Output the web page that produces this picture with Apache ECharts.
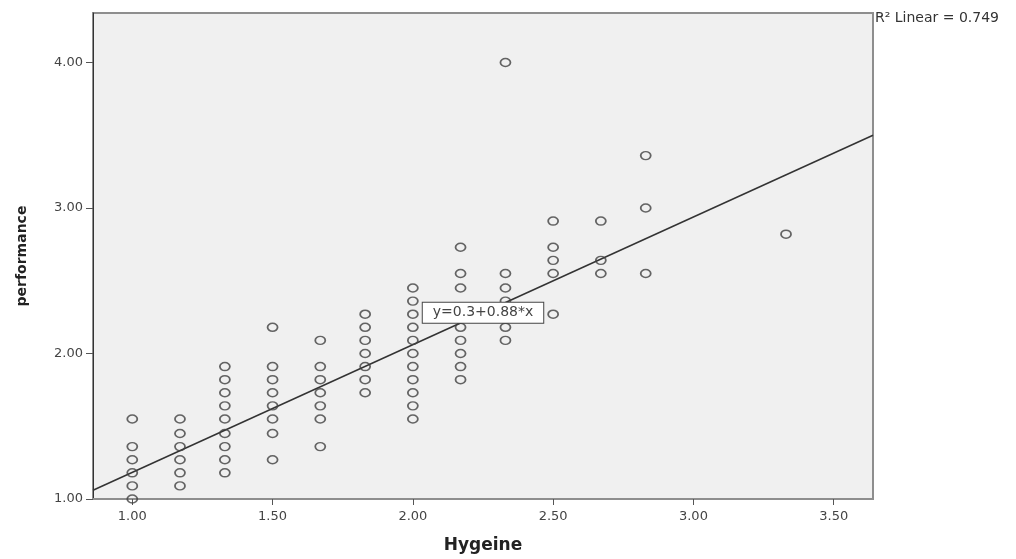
<!DOCTYPE html>
<html lang="en">
<head>
    <meta charset="UTF-8">
    <title>performance vs Hygeine</title>
    <style>
        html, body { margin: 0; padding: 0; background: #fff; }
    </style>
</head>
<body>
    <div id="main" style="width: 1016px;height:559px;"></div>
    <script src="https://cdn.jsdelivr.net/npm/echarts@6/dist/echarts.min.js"></script>
    <script>

// Hygeine levels (x) and the performance values seen at each level
var hygeineLevels = [1.00, 1.17, 1.33, 1.50, 1.67, 1.83, 2.00, 2.17, 2.33, 2.50, 2.67, 2.83, 3.33];
var performanceByLevel = [
    [1.00, 1.09, 1.18, 1.27, 1.36, 1.55],
    [1.09, 1.18, 1.27, 1.36, 1.45, 1.55],
    [1.18, 1.27, 1.36, 1.45, 1.55, 1.64, 1.73, 1.82, 1.91],
    [1.27, 1.45, 1.55, 1.64, 1.73, 1.82, 1.91, 2.18],
    [1.36, 1.55, 1.64, 1.73, 1.82, 1.91, 2.09],
    [1.73, 1.82, 1.91, 2.00, 2.09, 2.18, 2.27],
    [1.55, 1.64, 1.73, 1.82, 1.91, 2.00, 2.09, 2.18, 2.27, 2.36, 2.45],
    [1.82, 1.91, 2.00, 2.09, 2.18, 2.27, 2.45, 2.55, 2.73],
    [2.09, 2.18, 2.27, 2.36, 2.45, 2.55, 4.00],
    [2.27, 2.55, 2.64, 2.73, 2.91],
    [2.55, 2.64, 2.91],
    [2.55, 3.00, 3.36],
    [2.82]
];

// fit line ends, read at the frame edges
var fitX = [0.86, 3.64];
var fitY = [1.06, 3.50];
var fitText = 'y=0.3+0.88*x';
var r2Text = 'R\u00B2 Linear = 0.749';

var xTicks = [1.0, 1.5, 2.0, 2.5, 3.0, 3.5];
var yTicks = [1, 2, 3, 4];

var points = [];
hygeineLevels.forEach(function (h, i) {
    performanceByLevel[i].forEach(function (p) {
        points.push([h, p]);
    });
});
var fitLine = [[fitX[0], fitY[0]], [fitX[1], fitY[1]]];

var labelFont = 'DejaVu Sans, Liberation Sans, sans-serif';

var option = {
    animation: false,
    grid: {
        left: 93,
        right: 143,
        top: 13,
        bottom: 54,
        show: true,
        backgroundColor: '#f0f0f0',
        borderColor: '#8e8e8e',
        borderWidth: 2
    },
    xAxis: {
        type: 'value',
        min: 0.86,
        max: 3.64,
        name: 'Hygeine',
        nameLocation: 'middle',
        nameGap: 38,
        nameTextStyle: {
            fontFamily: labelFont,
            fontWeight: 'bold',
            fontSize: 17,
            color: '#222'
        },
        splitLine: {show: false},
        axisLine: {
            onZero: false,
            lineStyle: {color: '#8e8e8e', width: 2}
        },
        axisTick: {
            customValues: xTicks,
            length: 6,
            lineStyle: {color: '#555'}
        },
        axisLabel: {
            customValues: xTicks,
            formatter: function (v) { return v.toFixed(2); },
            fontFamily: labelFont,
            fontSize: 13,
            color: '#444',
            margin: 11
        }
    },
    yAxis: {
        type: 'value',
        min: 1,
        max: 4.34,
        name: 'performance',
        nameLocation: 'middle',
        nameGap: 64,
        nameTextStyle: {
            fontFamily: labelFont,
            fontWeight: 'bold',
            fontSize: 14,
            color: '#222'
        },
        splitLine: {show: false},
        axisLine: {
            onZero: false,
            lineStyle: {color: '#333', width: 1}
        },
        axisTick: {
            customValues: yTicks,
            length: 7,
            lineStyle: {color: '#555'}
        },
        axisLabel: {
            customValues: yTicks,
            formatter: function (v) { return v.toFixed(2); },
            fontFamily: labelFont,
            fontSize: 13,
            color: '#444',
            margin: 10
        }
    },
    graphic: [{
        type: 'text',
        left: 875,
        top: 11,
        style: {
            text: r2Text,
            font: '14px DejaVu Sans',
            fill: '#333'
        }
    }],
    series: [
        {
            name: 'fit',
            type: 'line',
            data: fitLine,
            symbol: 'none',
            silent: true,
            lineStyle: {color: '#333', width: 1.5},
            z: 1,
            markPoint: {
                symbol: 'rect',
                symbolSize: 1,
                itemStyle: {color: 'rgba(0,0,0,0)'},
                label: {
                    show: true,
                    position: 'inside',
                    formatter: fitText,
                    fontFamily: labelFont,
                    fontSize: 14,
                    color: '#444',
                    backgroundColor: '#fff',
                    borderColor: '#444',
                    borderWidth: 1,
                    padding: [3, 10]
                },
                data: [{coord: [2.25, 2.28]}]
            }
        },
        {
            name: 'performance',
            type: 'scatter',
            data: points,
            symbol: 'circle',
            symbolSize: [10, 8],
            itemStyle: {
                color: 'rgba(0,0,0,0)',
                borderColor: '#404040',
                borderWidth: 1.6
            },
            z: 2
        }
    ]
};

var myChart = echarts.init(document.getElementById('main'));
myChart.setOption(option);

    </script>
</body>
</html>
